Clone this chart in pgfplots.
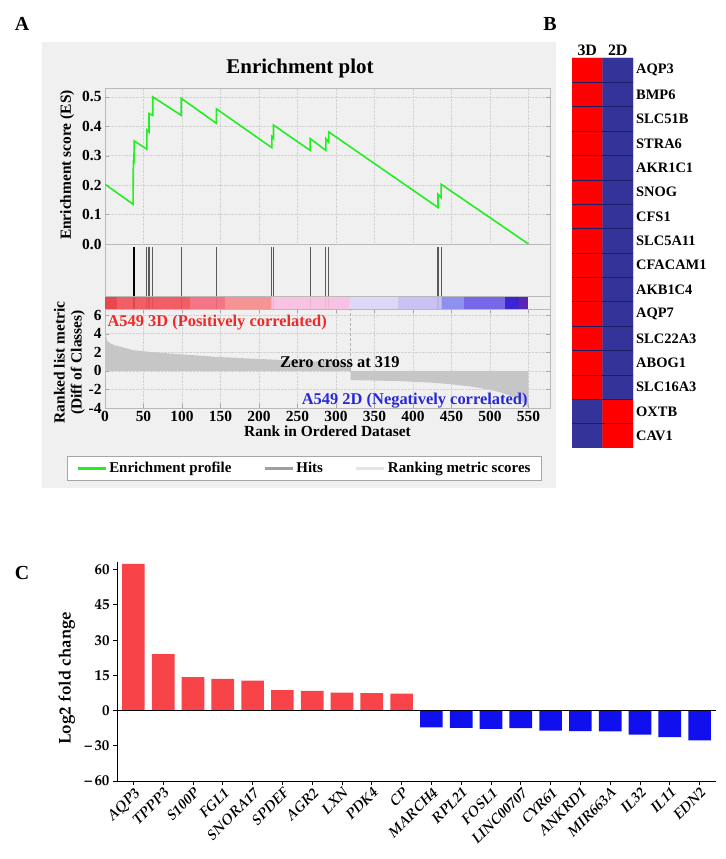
\documentclass[border=0pt]{standalone}
\usepackage[T1]{fontenc}
\usepackage{fontspec}
\setmainfont{Liberation Serif}
\usepackage{pgfplots}
\pgfplotsset{compat=1.18}
\newcommand{\pal}{\fontencoding{T1}\fontfamily{ppl}\selectfont}
\definecolor{panelgray}{HTML}{F0F0F0}
\definecolor{esgreen}{HTML}{22EE22}
\definecolor{posred}{HTML}{F02828}
\definecolor{negblue}{HTML}{2828D8}
\definecolor{hred}{HTML}{FF0000}
\definecolor{hblue}{HTML}{333399}
\definecolor{hline}{HTML}{1E1E66}
\definecolor{cred}{HTML}{F84448}
\definecolor{cblue}{HTML}{1010EE}
\definecolor{cb1}{HTML}{E8363C}
\definecolor{cb2}{HTML}{F24F56}
\definecolor{cb3}{HTML}{F5687A}
\definecolor{cb4}{HTML}{F78A8C}
\definecolor{cb5}{HTML}{F9BDE2}
\definecolor{cb6}{HTML}{D9D6F9}
\definecolor{cb7}{HTML}{C5BDF5}
\definecolor{cb8}{HTML}{8585F2}
\definecolor{cb9}{HTML}{6A5AEA}
\definecolor{cb10}{HTML}{2A0ECF}
\definecolor{cb11}{HTML}{4B0FB0}
\pgfplotsset{
  gsea/.style={
    scale only axis, width=445bp, xmin=0, xmax=578,
    axis line style={draw=gray!55},
    tick style={draw=gray!70},
    grid style={densely dotted, gray!35},
    tick label style={font=\bfseries\fontsize{15.5}{17}\selectfont},
    label style={font=\bfseries\fontsize{15.5}{17}\selectfont},
    /pgf/number format/assume math mode=true,
  }
}
\begin{document}
\begin{tikzpicture}[x=1bp,y=1bp]
\useasboundingbox (0,0) rectangle (726,859);
\fill[panelgray] (42,371) rectangle (556,817);
\node[font=\bfseries\fontsize{20}{24}\selectfont] at (22,835) {A};
\node[font=\bfseries\fontsize{20}{24}\selectfont] at (550,835) {B};
\node[font=\bfseries\fontsize{20}{24}\selectfont] at (22,286) {C};
\node[font=\bfseries\fontsize{21}{25}\selectfont] at (300,791) {Enrichment plot};

% ES axis
\begin{axis}[gsea, at={(105bp,615bp)}, anchor=south west, height=156bp,
  ymin=0, ymax=0.53, ytick={0,0.1,0.2,0.3,0.4,0.5},
  xtick={0,50,...,550}, xticklabels={}, xtick style={draw=none},
  grid=major,
  yticklabel style={/pgf/number format/.cd, fixed, fixed zerofill, precision=1},
  ylabel={Enrichment score (ES)},
  ylabel style={at={(axis description cs:-0.085,0.506)}, anchor=center},
]
\addplot[color=esgreen, line width=1.6bp] coordinates {
(0,0.203) (36.5,0.135) (36.8,0.278) (37.6,0.276) (37.9,0.350)
(54.3,0.322) (54.3,0.387) (57.2,0.380) (57.2,0.443) (62,0.437) (62,0.500)
(99,0.437) (99,0.495)
(144.7,0.410) (144.7,0.459)
(216.8,0.327) (216.8,0.365) (218.8,0.359) (218.8,0.404)
(266.5,0.318) (266.5,0.358)
(286.8,0.318) (286.8,0.358) (290.4,0.346) (290.4,0.381)
(432.5,0.124) (432.5,0.169) (436.5,0.158) (436.5,0.203)
(550,0)
};
\end{axis}

% Hits + colour bar
\begin{axis}[gsea, at={(105bp,550bp)}, anchor=south west, height=65bp,
  ymin=0, ymax=65, xtick=\empty, ytick=\empty]
\addplot[ycomb, color=black!65, line width=1.1bp, mark=none] coordinates {
(54.3,62) (57.2,62) (62,62) (99,62) (144.7,62) (216.8,62) (218.8,62)
(266.5,62) (286.8,62) (290.4,62) (432.5,62) (436.5,62)};
\addplot[ycomb, color=black, line width=1.4bp, mark=none] coordinates {(37,62) (38.6,62)};
\addplot[fill=cb1, draw=none, fill opacity=0.9] coordinates {(0,0) (15,0) (15,13) (0,13)} --cycle;
\addplot[fill=cb2, draw=none, fill opacity=0.9] coordinates {(15,0) (110,0) (110,13) (15,13)} --cycle;
\addplot[fill=cb3, draw=none, fill opacity=0.9] coordinates {(110,0) (156,0) (156,13) (110,13)} --cycle;
\addplot[fill=cb4, draw=none, fill opacity=0.9] coordinates {(156,0) (216,0) (216,13) (156,13)} --cycle;
\addplot[fill=cb5, draw=none, fill opacity=0.9] coordinates {(216,0) (317,0) (317,13) (216,13)} --cycle;
\addplot[fill=cb6, draw=none, fill opacity=0.9] coordinates {(317,0) (380,0) (380,13) (317,13)} --cycle;
\addplot[fill=cb7, draw=none, fill opacity=0.9] coordinates {(380,0) (438,0) (438,13) (380,13)} --cycle;
\addplot[fill=cb8, draw=none, fill opacity=0.9] coordinates {(438,0) (466,0) (466,13) (438,13)} --cycle;
\addplot[fill=cb9, draw=none, fill opacity=0.9] coordinates {(466,0) (519,0) (519,13) (466,13)} --cycle;
\addplot[fill=cb10, draw=none, fill opacity=0.9] coordinates {(519,0) (538,0) (538,13) (519,13)} --cycle;
\addplot[fill=cb11, draw=none, fill opacity=0.9] coordinates {(538,0) (550,0) (550,13) (538,13)} --cycle;
\addplot[gray!55, line width=0.5bp] coordinates {(0,13) (578,13)};
\end{axis}

% Ranked list metric
\begin{axis}[gsea, at={(105bp,451bp)}, anchor=south west, height=99bp,
  ymin=-4, ymax=6.65, ytick={-4,-2,0,2,4,6},
  xtick={0,50,...,550}, grid=major,
  xlabel={Rank in Ordered Dataset},
  xlabel style={yshift=3bp},
  ylabel={Ranked list metric\\(Diff of Classes)},
  ylabel style={at={(axis description cs:-0.08,0.46)}, anchor=center, align=center},
  legend columns=3,
  legend style={at={(0.448,-0.61)}, anchor=center, draw=gray!70, fill=white,
    inner xsep=9bp, inner ysep=4bp,
    font=\bfseries\fontsize{15}{17}\selectfont,
    /tikz/every even column/.append style={column sep=30bp}},
  legend cell align=left,
  legend image code/.code={\draw[#1, line width=3bp] (0bp,0bp) -- (28bp,0bp);},
]
\addplot[fill=gray!45, draw=none, forget plot] coordinates {
(0,0) (0,4.0) (1,3.9) (3,3.2) (6,3.0) (12,2.75) (20,2.6) (35,2.25) (50,2.1) (70,1.95)
(93,1.8) (120,1.65) (144,1.5) (180,1.35) (220,1.2) (260,1.05) (295,0.95) (310,0.85)
(318,0.7) (319,0.6) (319,0)} --cycle;
\addplot[fill=gray!45, draw=none, forget plot] coordinates {
(319,0) (319,-1.0) (340,-1.03) (380,-1.1) (420,-1.25) (450,-1.45) (480,-1.75) (500,-2.05)
(515,-2.35) (525,-2.65) (535,-3.0) (542,-3.3) (547,-3.7) (550,-3.95) (550,0)} --cycle;
\addplot[gray!60, densely dashed, forget plot] coordinates {(319,0) (319,6.65)};
\node[anchor=west, inner sep=0, text=posred, font=\bfseries\fontsize{16.5}{18}\selectfont] at (axis cs:3,5.15) {A549 3D (Positively correlated)};
\node[anchor=center, inner sep=0, font=\bfseries\fontsize{16.5}{18}\selectfont] at (axis cs:305,0.95) {Zero cross at 319};
\node[anchor=east, inner sep=0, text=negblue, font=\bfseries\fontsize{16.5}{18}\selectfont] at (axis cs:549,-3.25) {A549 2D (Negatively correlated)};
\addlegendimage{esgreen}
\addlegendentry{Enrichment profile}
\addlegendimage{gray!75}
\addlegendentry{Hits}
\addlegendimage{gray!20}
\addlegendentry{Ranking metric scores}
\end{axis}

% Heatmap B
\begin{axis}[at={(572bp,411bp)}, anchor=south west, scale only axis, width=61bp, height=390bp,
  xmin=-0.5, xmax=1.5, ymin=-0.5, ymax=15.5, y dir=reverse,
  axis line style={draw=none}, major tick length=0, minor tick length=0,
  xtick={0,1}, xticklabels={3D,2D}, xticklabel pos=upper,
  xticklabel style={font=\bfseries\fontsize{16}{18}\selectfont, inner sep=2bp},
  ytick={0,...,15},
  yticklabels={AQP3,BMP6,SLC51B,STRA6,AKR1C1,SNOG,CFS1,SLC5A11,CFACAM1,AKB1C4,AQP7,SLC22A3,ABOG1,SLC16A3,OXTB,CAV1},
  yticklabel pos=right,
  yticklabel style={font=\bfseries\fontsize{14.5}{16}\selectfont, inner sep=3bp},
  minor ytick={0.5,1.5,...,14.5}, yminorgrids, minor grid style={hline, line width=0.5bp},
  axis on top,
  colormap={rb}{color=(hblue) color=(hred)}, point meta min=0, point meta max=1,
]
\addplot[matrix plot*, mesh/cols=2, point meta=explicit] table[meta=c] {
x y c
0 0 1
1 0 0
0 1 1
1 1 0
0 2 1
1 2 0
0 3 1
1 3 0
0 4 1
1 4 0
0 5 1
1 5 0
0 6 1
1 6 0
0 7 1
1 7 0
0 8 1
1 8 0
0 9 1
1 9 0
0 10 1
1 10 0
0 11 1
1 11 0
0 12 1
1 12 0
0 13 1
1 13 0
0 14 0
1 14 1
0 15 0
1 15 1
};
\end{axis}

% Panel C
\begin{axis}[at={(117bp,78bp)}, anchor=south west, scale only axis, width=599bp, height=219bp,
  xmin=-0.55, xmax=19.55, ymin=-30, ymax=63.3,
  axis x line*=bottom, axis y line*=left,
  axis line style={-, black, line width=0.9bp},
  tick style={black, line width=0.9bp}, tick align=outside, major tick length=4bp,
  y filter/.expression={y<0 ? y/2 : y},
  ytick={-30,-15,0,15,30,45,60},
  yticklabels={--\,60,--\,30,0,15,30,45,60},
  yticklabel style={font=\pal\bfseries\fontsize{15}{17}\selectfont},
  xtick={0,...,19},
  xticklabels={AQP3,TPPP3,S100P,FGL1,SNORA17,SPDEF,AGR2,LXN,PDK4,CP,MARCH4,RPL21,FOSL1,LINC00707,CYR61,ANKRD1,MIR663A,IL32,IL11,EDN2},
  xticklabel style={rotate=45, anchor=north east, inner sep=1bp, font=\pal\bfseries\itshape\fontsize{14.5}{16}\selectfont},
  ylabel={Log2 fold change},
  ylabel style={at={(axis description cs:-0.084,0.47)}, anchor=center, font=\pal\bfseries\fontsize{17}{19}\selectfont},
]
\addplot[ybar, bar width=0.76, fill=cred, draw=none] coordinates {
(0,62.5) (1,24.0) (2,14.3) (3,13.5) (4,12.8) (5,8.7) (6,8.4) (7,7.7) (8,7.4) (9,7.2)};
\addplot[ybar, bar width=0.76, fill=cblue, draw=none] coordinates {
(10,-14.3) (11,-14.8) (12,-15.5) (13,-15.0) (14,-17.0) (15,-17.5) (16,-17.8) (17,-20.5) (18,-22.6) (19,-25.4)};
\addplot[black, line width=0.9bp] coordinates {(-0.55,0) (19.55,0)};
\end{axis}
\end{tikzpicture}
\end{document}
